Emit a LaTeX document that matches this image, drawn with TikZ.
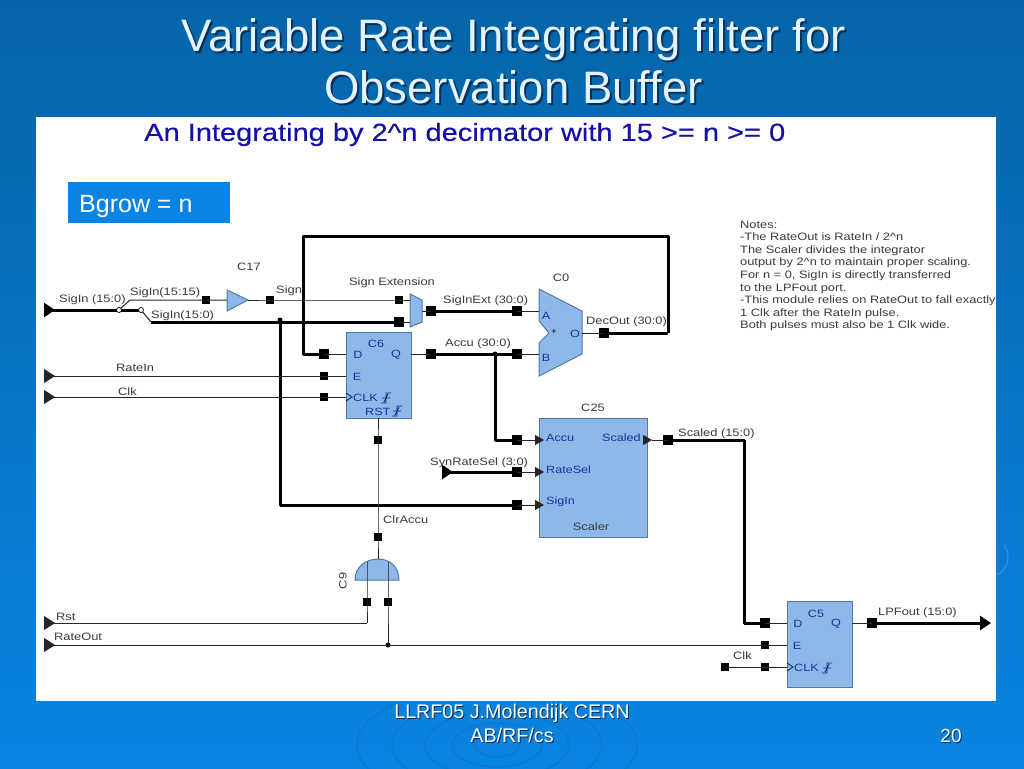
\documentclass[tikz,border=0pt]{standalone}
\usepackage{fontspec}
\setmainfont{Liberation Sans}
\newfontfamily\widefont[FakeStretch=1.2]{Liberation Sans}
\newfontfamily\headfont[FakeStretch=1.17,FakeBold=0.4]{Liberation Sans}
\usetikzlibrary{arrows.meta,shapes.geometric}
\definecolor{blockfill}{HTML}{8DB8E8}
\definecolor{blockedge}{HTML}{56789C}
\definecolor{portblue}{HTML}{1F2F9F}
\definecolor{labelgrey}{HTML}{3A3A40}
\definecolor{shadowblue}{HTML}{04305A}
\definecolor{ripple}{HTML}{0A7AD2}
\definecolor{ripplelight}{HTML}{2A94EC}
\definecolor{bgtop}{HTML}{0564A8}
\definecolor{bgbot}{HTML}{0A84E2}
\definecolor{boxblue}{HTML}{0A84E4}
\definecolor{headblue}{HTML}{1410A8}
\definecolor{titlewhite}{HTML}{E4F2FC}
\newcommand{\shadowtxt}[2]{\leavevmode\rlap{\raisebox{-#2}{\hspace{#2}\textcolor{shadowblue}{#1}}}#1}
\tikzset{
  x=1pt,y=-1pt,
  thinwire/.style={draw=black!85,fill=black,line width=1pt},
  thickwire/.style={draw=black,line width=3pt,line join=round},
  bigsq/.style={fill=black,inner sep=0pt,minimum size=10pt,draw=none,rectangle},
  smallsq/.style={fill=black,inner sep=0pt,minimum size=8pt,draw=none,rectangle},
  dotj/.style={circle,fill=black,inner sep=0pt,minimum size=5pt},
  openj/.style={circle,fill=white,draw=black,line width=.7pt,inner sep=0pt,minimum size=5pt},
  block/.style={rectangle,fill=blockfill,draw=blockedge,line width=1pt,inner sep=0pt},
  shapeblock/.style={fill=blockfill,draw=blockedge,line width=1pt,line join=miter},
  lab/.style={font=\widefont\fontsize{10.7}{12}\selectfont,text=labelgrey,inner sep=0pt,anchor=west,yshift=-1pt},
  labc/.style={font=\widefont\fontsize{10.7}{12}\selectfont,text=labelgrey,inner sep=0pt,yshift=-1pt},
  pin/.style={font=\widefont\fontsize{10.5}{12}\selectfont,text=portblue,inner sep=0pt,anchor=west,yshift=-1pt},
  pinc/.style={font=\widefont\fontsize{10.5}{12}\selectfont,text=portblue,inner sep=0pt,yshift=-1pt},
  edgemark/.style={draw=portblue!80!black,line width=.9pt},
}
\begin{document}
\begin{tikzpicture}
\useasboundingbox (0,0) rectangle (1024,768);
% background
\shade[top color=bgtop,bottom color=bgbot,shading angle=0] (0,0) rectangle (1024,768);
\foreach \r/\s in {22/12,45/22,72/33,105/46,140/60}
  \draw[ripple,line width=1.6pt] (497,745) ellipse ({\r*1.0} and {\s*1.0});
\draw[ripplelight,line width=1.3pt] (997,575) .. controls (1007,570) and (1012,556) .. (1004,545);
% panel
\fill[white] (36,117) rectangle (996,701);
% title
\node[align=center,font=\fontsize{45.5}{52.5}\selectfont,text=titlewhite,inner sep=0pt] (title) at (513.5,62)
  {\shadowtxt{Variable Rate Integrating filter for}{2pt}\\\shadowtxt{Observation Buffer}{2pt}};
\node[font=\headfont\fontsize{24.8}{28}\selectfont,text=headblue,inner sep=0pt,anchor=west] (heading) at (144,134.5)
  {An Integrating by 2\^{}n decimator with 15 >= n >= 0};
\node[rectangle,fill=boxblue,minimum width=162pt,minimum height=41pt,inner sep=0pt,anchor=north west] (bgrowbox) at (68,182) {};
\node[font=\fontsize{25}{29}\selectfont,text=white,inner sep=0pt,anchor=west] (bgrow) at (79,206) {Bgrow = n};
% notes
\node[font=\widefont\fontsize{10.7}{12.6}\selectfont,text=labelgrey,inner sep=0pt,anchor=north west,align=left] (notes) at (740,220.5)
 {Notes:\\-The RateOut is RateIn / 2\^{}n\\The Scaler divides the integrator\\output by 2\^{}n to maintain proper scaling.\\For n = 0, SigIn is directly transferred\\to the LPFout port.\\-This module relies on RateOut to fall exactly\\1 Clk after the RateIn pulse.\\Both pulses must also be 1 Clk wide.};
% blocks
\node[block,minimum width=65pt,minimum height=86pt] (C6) at (378.5,375) {};
\node[block,minimum width=108pt,minimum height=119pt] (C25) at (593,477.5) {};
\node[block,minimum width=65pt,minimum height=86pt] (C5) at (819.5,644) {};
\draw[shapeblock] (539,289) -- (582,311) -- (582,354) -- (539,376) -- (539,343) -- (549,333) -- (539,321) -- cycle;
\draw[shapeblock] (410,294) -- (422,300) -- (422,322) -- (410,327) -- cycle;
\draw[shapeblock] (227,290) -- (248,300) -- (227,311) -- cycle;
\draw[shapeblock] (355,580) .. controls (355,566) and (367,559) .. (378,559) .. controls (389,559) and (399,566) .. (399,580) -- cycle;
% anchors
\coordinate (muxIn1) at (410,300);
\coordinate (muxIn2) at (410,322);
\coordinate (muxOut) at (422,311);
\coordinate (addA) at (539,311);
\coordinate (addB) at (539,354);
\coordinate (addO) at (582,333);
\coordinate (bufIn) at (227,300);
\coordinate (bufOut) at (248,300);
\coordinate (c6D) at (346,354);
\coordinate (c6E) at (346,376);
\coordinate (c6C) at (346,397);
\coordinate (c6Q) at (411,354);
\coordinate (c6R) at (378,418);
\coordinate (c25A) at (544,440);
\coordinate (c25R) at (544,472);
\coordinate (c25S) at (544,505);
\coordinate (c25O) at (643,440);
\coordinate (c25T) at (652,440);
\coordinate (c5D) at (787,623);
\coordinate (c5E) at (787,645);
\coordinate (c5C) at (787,667);
\coordinate (c5Q) at (852,623);
\coordinate (gateTop) at (378,559);
\coordinate (gateA) at (367,562);
\coordinate (gateB) at (388,562);
\coordinate (pSig) at (44,310);
\coordinate (pRateIn) at (44,376);
\coordinate (pClk) at (44,397);
\coordinate (pSyn) at (442,472);
\coordinate (pRst) at (44,623);
\coordinate (pRateOut) at (44,645);
\coordinate (pOut) at (991,623);
\coordinate (bendA) at (130,300);
\coordinate (bendB) at (151,322);
\coordinate (fbTR) at (668,236);
\coordinate (fbTL) at (303,236);
\coordinate (fbR) at (668,333);
\coordinate (rstBend) at (367,623);
\coordinate (scaleBendT) at (744,440);
\coordinate (scaleBendB) at (744,623);
\coordinate (signBend) at (282,505);
\coordinate (accuBend) at (496,440);
% squares and dots
\node[smallsq] (sBuf1) at (206,300) {};
\node[smallsq] (sBuf2) at (270,300) {};
\node[smallsq] (sMux1) at (399,300) {};
\node[bigsq] (sMux2) at (399,322) {};
\node[bigsq] (sMuxO) at (431,311) {};
\node[bigsq] (sA) at (517,311) {};
\node[bigsq] (sB) at (517,354) {};
\node[bigsq] (sQ) at (431,354) {};
\node[bigsq] (sO) at (604,333) {};
\node[bigsq] (sD) at (324,354) {};
\node[smallsq] (sE) at (324,376) {};
\node[smallsq] (sC) at (324,397) {};
\node[smallsq] (sR1) at (378,440) {};
\node[smallsq] (sR2) at (378,537) {};
\node[smallsq] (sGA) at (367,602) {};
\node[smallsq] (sGB) at (388,602) {};
\node[bigsq] (s25A) at (517,440) {};
\node[bigsq] (s25R) at (517,472) {};
\node[bigsq] (s25S) at (517,505) {};
\node[bigsq] (s25O) at (668,440) {};
\node[bigsq] (s5D) at (765,623) {};
\node[smallsq] (s5E) at (765,645) {};
\node[smallsq] (s5C) at (765,667) {};
\node[smallsq] (s5F) at (725,667) {};
\node[bigsq] (s5Q) at (872,623) {};
\node[dotj] (jSign) at (280,320) {};
\node[dotj] (jAccu) at (495,354) {};
\node[dotj] (jRate) at (388,645) {};
\coordinate (jAc) at (119,310);
\coordinate (jBc) at (141,310);
% thick wires
\draw[thickwire,{Triangle[reversed,length=11pt,width=14pt]}-] (pSig) -- (jBc);
\draw[thickwire] (bendB) -- (sMux2.center);
\draw[thickwire] (jSign.center) |- (signBend) -- (s25S.center);
\draw[thickwire] (fbR) -- (fbTR) -- (fbTL) |- (sD.center);
\draw[thickwire] (sO.center) -- (fbR);
\draw[thickwire] (sMuxO.center) -- (sA.center);
\draw[thickwire] (sQ.center) -- (sB.center);
\draw[thickwire] (jAccu.center) |- (accuBend) -- (s25A.center);
\draw[thickwire,{Triangle[reversed,length=11pt,width=14pt]}-] (pSyn) -- (s25R.center);
\draw[thickwire] (s25O.center) -- (scaleBendT) -- (scaleBendB) -- (s5D.center);
\draw[thickwire,-{Triangle[length=11pt,width=14pt]}] (s5Q.center) -- (pOut);
% thin wires
\draw[thinwire,fill=none] (jAc) -- (bendA) -- (sBuf1.center) -- (bufIn);
\draw[thinwire] (jBc) -- (bendB);
\draw[thinwire] (bufOut) -- (sBuf2.center) -- (sMux1.center) -- (muxIn1);
\draw[thinwire] (sMux2.center) -- (muxIn2);
\draw[thinwire] (muxOut) -- (sMuxO.center);
\draw[thinwire] (sA.center) -- (addA);
\draw[thinwire] (sB.center) -- (addB);
\draw[thinwire] (addO) -- (sO.center);
\draw[thinwire] (c6Q) -- (sQ.center);
\draw[thinwire] (sD.center) -- (c6D);
\draw[thinwire,{Triangle[reversed,length=11pt,width=14pt]}-] (pRateIn) -- (sE.center);
\draw[thinwire] (sE.center) -- (c6E);
\draw[thinwire,{Triangle[reversed,length=11pt,width=14pt]}-] (pClk) -- (sC.center);
\draw[thinwire] (sC.center) -- (c6C);
\draw[thinwire] (c6R) -- (sR1.center) -- (sR2.center) -- (gateTop);
\draw[thinwire,fill=none] (gateA) -- (sGA.center) -- (rstBend);
\draw[thinwire,{Triangle[reversed,length=11pt,width=14pt]}-] (pRst) -- (rstBend);
\draw[thinwire] (gateB) -- (sGB.center) -- (jRate.center);
\draw[thinwire,{Triangle[reversed,length=11pt,width=14pt]}-] (pRateOut) -- (s5E.center);
\draw[thinwire] (s5E.center) -- (c5E);
\draw[thinwire] (s5F.center) -- (s5C.center) -- (c5C);
\draw[thinwire] (s5D.center) -- (c5D);
\draw[thinwire] (c5Q) -- (s5Q.center);
\draw[thinwire,-{Triangle[length=9pt,width=10pt]}] (s25A.center) -- (c25A);
\draw[thinwire,-{Triangle[length=9pt,width=10pt]}] (s25R.center) -- (c25R);
\draw[thinwire,-{Triangle[length=9pt,width=10pt]}] (s25S.center) -- (c25S);
\draw[thinwire,-{Triangle[length=9pt,width=10pt]}] (c25O) -- (c25T);
\draw[thinwire] (c25T) -- (s25O.center);
% open junctions of the input switch
\node[openj] (jA) at (jAc) {};
\node[openj] (jB) at (jBc) {};
% clock chevrons and edge symbols
\draw[edgemark] (346,393) -- (352,397) -- (346,401);
\draw[edgemark] (787,663) -- (793,667) -- (787,671);
\draw[edgemark] (381,403) -- (386,403) -- (386,393) -- (391,393) (382,398) -- (390,398) (388,394) -- (384,402);
\draw[edgemark] (392,416) -- (397,416) -- (397,406) -- (402,406) (393,411) -- (401,411) (399,407) -- (395,415);
\draw[edgemark] (822,673) -- (827,673) -- (827,663) -- (832,663) (823,668) -- (831,668) (829,664) -- (825,672);
\node[font=\fontsize{9}{9}\selectfont,text=black,inner sep=0pt] (addplus) at (554,332) {+};
% wire labels
\node[lab] (l1) at (59,299) {SigIn (15:0)};
\node[lab] (l2) at (130,292) {SigIn(15:15)};
\node[lab] (l3) at (151,315) {SigIn(15:0)};
\node[labc] (l4) at (249,266) {C17};
\node[lab] (l5) at (276,290) {Sign};
\node[labc] (l6) at (392,282) {Sign Extension};
\node[lab] (l7) at (443,300) {SigInExt (30:0)};
\node[labc] (l8) at (561,277) {C0};
\node[lab] (l9) at (586,321) {DecOut (30:0)};
\node[lab] (l10) at (445,343) {Accu (30:0)};
\node[lab] (l11) at (116,367) {RateIn};
\node[lab] (l12) at (118,391) {Clk};
\node[labc] (l13) at (593,407) {C25};
\node[lab] (l14) at (678,433) {Scaled (15:0)};
\node[lab] (l15) at (430,462) {SynRateSel (3:0)};
\node[lab] (l16) at (383,519) {ClrAccu};
\node[labc,rotate=90] (l17) at (343,580) {C9};
\node[lab] (l18) at (56,616) {Rst};
\node[lab] (l19) at (54,636) {RateOut};
\node[lab] (l20) at (733,655) {Clk};
\node[lab] (l21) at (878,612) {LPFout (15:0)};
\node[labc] (l22) at (591,526) {Scaler};
% pin labels
\node[pinc] (c6n) at (376,343) {C6};
\node[pinc] (c6d) at (358,354) {D};
\node[pinc] (c6q) at (396,354) {Q};
\node[pinc] (c6e) at (357,376) {E};
\node[pin] (c6k) at (353,397) {CLK};
\node[pin] (c6r) at (365,411) {RST};
\node[pinc] (c5n) at (816,613) {C5};
\node[pinc] (c5d) at (798,623) {D};
\node[pinc] (c5q) at (836,623) {Q};
\node[pinc] (c5e) at (797,645) {E};
\node[pin] (c5k) at (794,667) {CLK};
\node[pin] (p1) at (546,437) {Accu};
\node[pin] (p2) at (602,437) {Scaled};
\node[pin] (p3) at (546,469) {RateSel};
\node[pin] (p4) at (546,501) {SigIn};
\node[pinc] (p5) at (546,315) {A};
\node[pinc] (p6) at (546,357) {B};
\node[pinc] (p7) at (575,333) {O};
% footer
\node[font=\fontsize{19.7}{24}\selectfont,text=white,align=center,inner sep=0pt] (foot) at (512,724)
 {\shadowtxt{LLRF05 J.Molendijk CERN}{1pt}\\\shadowtxt{AB/RF/cs}{1pt}};
\node[font=\fontsize{19}{24}\selectfont,text=white,inner sep=0pt] (page) at (951,736) {\shadowtxt{20}{1pt}};
\end{tikzpicture}
\end{document}
